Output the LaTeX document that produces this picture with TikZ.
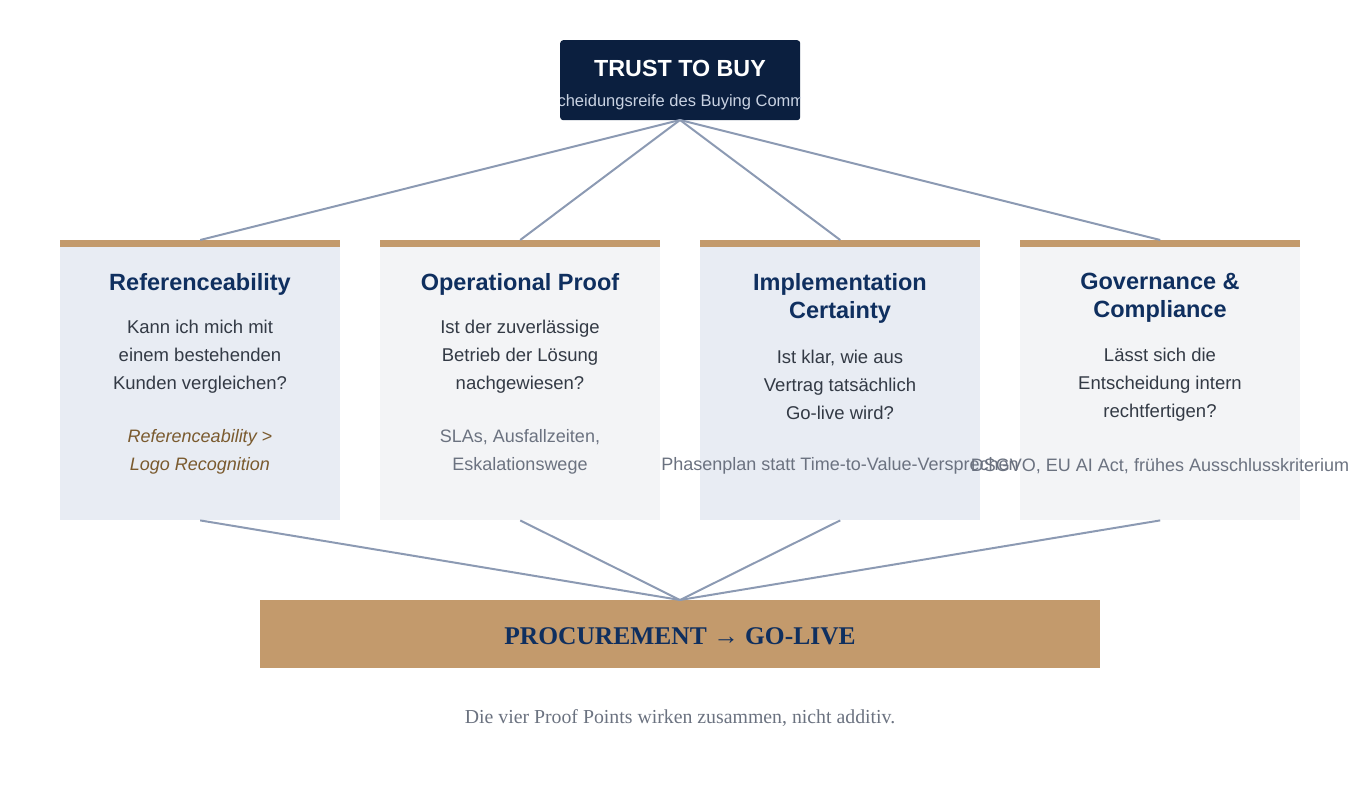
\documentclass[tikz,border=0pt]{standalone}
\usepackage{fontspec}
\setmainfont{Liberation Sans}
\newfontfamily\serifx{Liberation Serif}
\begin{document}
\begin{tikzpicture}[x=1pt,y=-1pt,
  conn/.style={draw=linec,line width=2pt},
  card/.style={minimum width=280pt,minimum height=280pt,anchor=north west,inner sep=0},
  head/.style={font=\fontsize{23.5}{28}\selectfont\bfseries,text=navyt,align=center},
  body/.style={font=\fontsize{18.5}{28}\selectfont,text=bodyc,align=center},
  det/.style={font=\fontsize{18}{28}\selectfont,text=detc,align=center},
  detit/.style={font=\fontsize{18}{28}\selectfont\itshape,text=brownt,align=center}]
\definecolor{linec}{HTML}{8C9AB3}
\definecolor{navy}{HTML}{0B1F3F}
\definecolor{navyt}{HTML}{0F2F5F}
\definecolor{tan}{HTML}{C39A6C}
\definecolor{cA}{HTML}{E8ECF3}
\definecolor{cB}{HTML}{F3F4F6}
\definecolor{bodyc}{HTML}{333A45}
\definecolor{detc}{HTML}{6B7280}
\definecolor{brownt}{HTML}{7A5A2E}
\definecolor{subc}{HTML}{C9D2E2}
\useasboundingbox (0,0) rectangle (1360,800);
% cards
\node[card,fill=cA] (c1) at (60,240) {};
\node[card,fill=cB] (c2) at (380,240) {};
\node[card,fill=cA] (c3) at (700,240) {};
\node[card,fill=cB] (c4) at (1020,240) {};
\foreach \i in {1,2,3,4}{\fill[tan] (c\i.north west) rectangle ([yshift=-7pt]c\i.north east);}
% top
\node[fill=navy,rounded corners=3pt,minimum width=240pt,minimum height=80pt,anchor=north west,inner sep=0] (top) at (560,40) {};
\node[font=\fontsize{23.3}{26}\selectfont\bfseries,text=white] (tt) at (680,68) {TRUST TO BUY};
\begin{scope}
\clip (560,80) rectangle (800,120);
\node[font=\fontsize{16.5}{18}\selectfont,text=subc] (ts) at (680,102) {Entscheidungsreife des Buying Committee};
\end{scope}
% bottom
\node[fill=tan,minimum width=840pt,minimum height=68pt,anchor=north west,inner sep=0] (bar) at (260,600) {};
\node[font=\serifx\fontsize{25.5}{28}\selectfont\bfseries,text=navyt] (bt) at (680,636) {PROCUREMENT → GO-LIVE};
\node[font=\serifx\fontsize{19.8}{22}\selectfont,text=detc] (cap) at (680,718) {Die vier Proof Points wirken zusammen, nicht additiv.};
% connectors
\coordinate (tp) at (680,120);
\coordinate (bp) at (680,600);
\foreach \i in {1,2,3,4}{
  \draw[conn] (tp) -- (c\i.north);
  \draw[conn] (c\i.south) -- (bp);
}
% texts
\node[head] (h1) at (200,284) {Referenceability};
\node[body] (b1) at (200,357) {Kann ich mich mit\\einem bestehenden\\Kunden vergleichen?};
\node[detit] (d1) at (200,452) {Referenceability >\\Logo Recognition};
\node[head] (h2) at (520,284) {Operational Proof};
\node[body] (b2) at (520,357) {Ist der zuverlässige\\Betrieb der Lösung\\nachgewiesen?};
\node[det] (d2) at (520,452) {SLAs, Ausfallzeiten,\\Eskalationswege};
\node[head] (h3) at (840,298) {Implementation\\Certainty};
\node[body] (b3) at (840,385) {Ist klar, wie aus\\Vertrag tatsächlich\\Go-live wird?};
\node[det] (d3) at (840,466) {Phasenplan statt Time-to-Value-Versprechen};
\node[head] (h4) at (1160,298) {Governance \&\\Compliance};
\node[body] (b4) at (1160,385) {Lässt sich die\\Entscheidung intern\\rechtfertigen?};
\node[det] (d4) at (1160,466) {DSGVO, EU AI Act, frühes Ausschlusskriterium};
\end{tikzpicture}
\end{document}
